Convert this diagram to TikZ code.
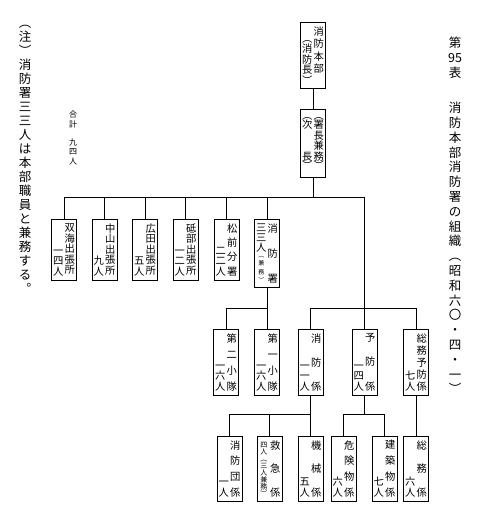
\documentclass[tikz,border=0pt]{standalone}
\usepackage{fontspec}
\newfontfamily\jpfont{Noto Sans CJK JP}
\usetikzlibrary{calc}

% 縦書きの一列 (位置, 高さ, 文字)
\newcommand{\tcol}[3][t]{\parbox[c][#2][#1]{11.5pt}{\centering#3}}

\tikzset{
    unit/.style={draw, line width=0.7pt, anchor=north, inner xsep=1pt, inner ysep=4pt,
        font={\jpfont\fontsize{10.3}{10.5}\selectfont}},
    link/.style={line width=0.7pt},
    vtext/.style={align=center, anchor=north, inner sep=0pt},
}

\begin{document}
\begin{tikzpicture}[x=1pt, y=-1pt]
\useasboundingbox (0,0) rectangle (480,514);

% === 表題と注 ===
\node[vtext, font={\jpfont\fontsize{12.5}{14.8}\selectfont}] (title) at (455,37)
    {第\\95\\表\\[20.6pt]消\\防\\本\\部\\消\\防\\署\\の\\組\\織\\︵\\昭\\和\\六\\〇\\・\\四\\・\\一\\︶};
\node[vtext, font={\jpfont\fontsize{12.5}{14}\selectfont}] (note) at (25,25)
    {︵\\注\\︶\\消\\防\\署\\三\\三\\人\\は\\本\\部\\職\\員\\と\\兼\\務\\す\\る\\︒};
\node[vtext, font={\jpfont\fontsize{8}{9.5}\selectfont}] (total) at (73,111)
    {合\\計\\[8.5pt]九\\四\\人};

% === 本部 ===
\node[unit] (hq) at (313,22)
    {\tcol[b]{58pt}{︵\\消\\防\\長\\︶}\tcol[t]{58pt}{消\\[2pt]防\\[2pt]本\\[2pt]部}};
\node[unit, inner ysep=3pt] (deputy) at (313,109)
    {\tcol[c]{62pt}{︵\\[-1pt]次\\　\\　\\長\\[-1pt]︶}\tcol[c]{62pt}{︵\\[-1pt]署\\長\\兼\\務\\[-1pt]︶}};

% === 出張所・分署・消防署 ===
\node[unit] (futami) at (64,219) {\tcol[b]{52pt}{一\\四\\人}\tcol{52pt}{双\\海\\出\\張\\所}};
\node[unit] (nakayama) at (104.5,219) {\tcol[b]{52pt}{九\\人}\tcol{52pt}{中\\山\\出\\張\\所}};
\node[unit] (hirota) at (145,219) {\tcol[b]{52pt}{五\\人}\tcol{52pt}{広\\田\\出\\張\\所}};
\node[unit] (tobe) at (185.5,219) {\tcol[b]{52pt}{一\\二\\人}\tcol{52pt}{砥\\部\\出\\張\\所}};
\node[unit] (masaki) at (226.5,219) {\tcol[b]{52pt}{二\\二\\人}\tcol[s]{52pt}{松\vfill 前\vfill 分\vfill 署}};
\node[unit] (station) at (267,219)
    {\tcol{59pt}{三\\[-0.5pt]三\\[-0.5pt]人\\[3pt]{\fontsize{6}{6}\selectfont\shortstack{︵\\兼\\務\\︶}}}\tcol[s]{59pt}{消\vfill 防\vfill 署}};

% === 小隊・係 ===
\node[unit] (sq2) at (226,329) {\tcol[b]{57pt}{一\\六\\人}\tcol[s]{57pt}{第\vfill 二\vfill 小\vfill 隊}};
\node[unit] (sq1) at (267,329) {\tcol[b]{57pt}{一\\六\\人}\tcol[s]{57pt}{第\vfill 一\vfill 小\vfill 隊}};
\node[unit] (fire) at (310.5,329) {\tcol[b]{57pt}{一\\一\\人}\tcol[s]{57pt}{消\vfill 防\vfill 係}};
\node[unit] (prev) at (364.5,329) {\tcol[b]{57pt}{一\\四\\人}\tcol[s]{57pt}{予\vfill 防\vfill 係}};
\node[unit] (genprev) at (416,329) {\tcol[b]{57pt}{七\\人}\tcol[s]{57pt}{総\vfill 務\vfill 予\vfill 防\vfill 係}};

% === 下位の係 ===
\node[unit] (dan) at (229.5,436) {\tcol[b]{56pt}{一\\人}\tcol[s]{56pt}{消\vfill 防\vfill 団\vfill 係}};
\node[unit] (kyu) at (269.5,436)
    {\tcol[b]{56pt}{\fontsize{7}{7}\selectfont 四\\人\\︵\\三\\人\\兼\\務\\︶}\tcol[s]{56pt}{救\vfill 急\vfill 係}};
\node[unit] (kikai) at (310.5,436) {\tcol[b]{56pt}{五\\人}\tcol[s]{56pt}{機\vfill 械\vfill 係}};
\node[unit] (kiken) at (343.5,436) {\tcol[b]{56pt}{六\\人}\tcol[s]{56pt}{危\vfill 険\vfill 物\vfill 係}};
\node[unit] (kenchiku) at (384.5,436) {\tcol[b]{56pt}{七\\人}\tcol[s]{56pt}{建\vfill 築\vfill 物\vfill 係}};
\node[unit] (somu) at (416,436) {\tcol[b]{56pt}{六\\人}\tcol[s]{56pt}{総\vfill 務\vfill 係}};

% === 結線 ===
\coordinate (j1) at (364.5,197);
\draw[link] (hq) -- (deputy);
\draw[link] (deputy) -- (deputy |- j1);
\draw[link] (futami.north) |- (j1) -- (prev.north);
\foreach \n in {nakayama,hirota,tobe,masaki,station}
    \draw[link] (\n.north) -- (\n.north |- j1);

\coordinate (j2) at (267,308);
\draw[link] (station) -- (j2);
\draw[link] (sq2.north) |- (j2) -- (sq1.north);
\draw[link] (fire.north) |- (genprev.north |- j2) -- (genprev.north);

\coordinate (j3) at (310.5,414);
\draw[link] (fire) -- (j3);
\draw[link] (dan.north) |- (j3) -- (kikai.north);
\draw[link] (kyu.north) -- (kyu.north |- j3);
\coordinate (j4) at (364.5,414);
\draw[link] (prev) -- (j4);
\draw[link] (kiken.north) |- (kenchiku.north |- j4) -- (kenchiku.north);
\draw[link] (genprev) -- (somu);

\end{tikzpicture}
\end{document}
